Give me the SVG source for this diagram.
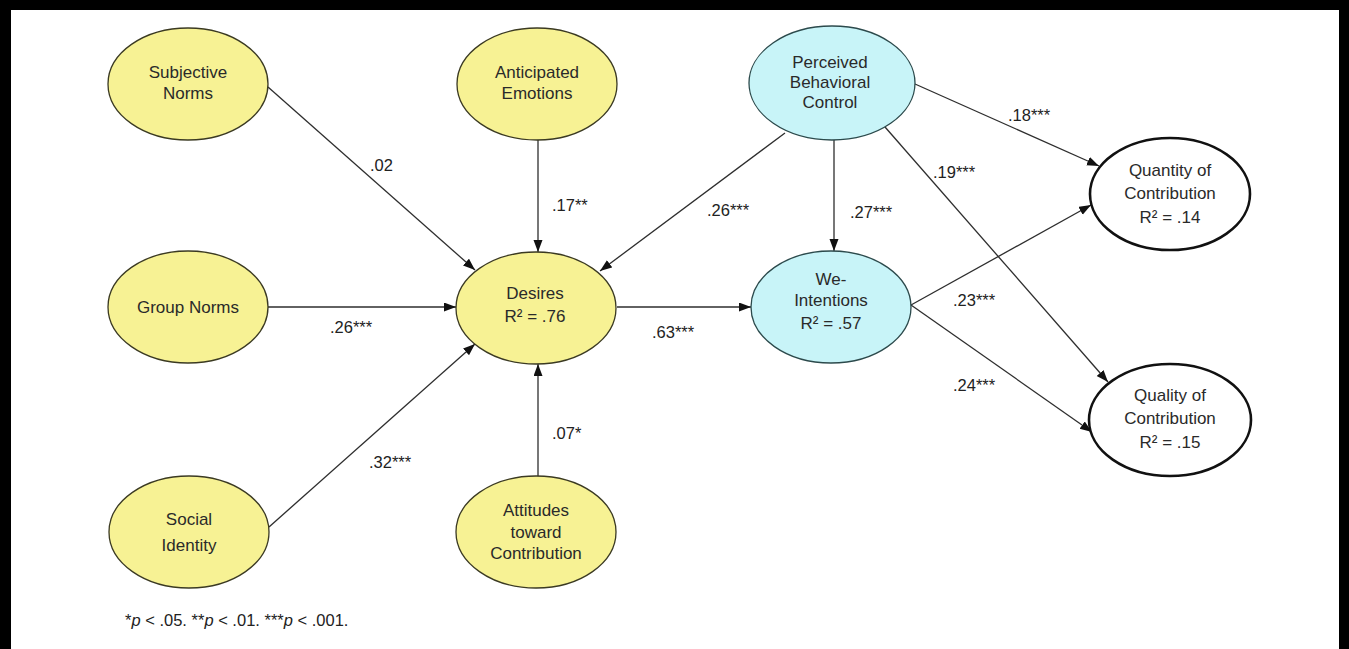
<svg xmlns="http://www.w3.org/2000/svg" width="1349" height="649" viewBox="0 0 1349 649">
<style>
  .bg { fill: #ffffff; }
  .frame { fill: #000000; }
  .yel { fill: #F7F294; stroke: #3b3a22; stroke-width: 1.3; }
  .cyan { fill: #C8F4F8; stroke: #2c4a4c; stroke-width: 1.3; }
  .out { fill: #ffffff; stroke: #111111; stroke-width: 2.6; }
  .nt { font-family: "Liberation Sans", Arial, sans-serif; font-size: 17px; fill: #2a2a2a; text-anchor: middle; }
  .lb { font-family: "Liberation Sans", Arial, sans-serif; font-size: 16.5px; fill: #222222; }
  .fn { font-family: "Liberation Sans", Arial, sans-serif; font-size: 16.5px; fill: #222222; }
  .ln { stroke: #2e2e2e; stroke-width: 1.3; fill: none; marker-end: url(#ah); }
</style>
<defs>
  <marker id="ah" markerUnits="userSpaceOnUse" markerWidth="13" markerHeight="10" refX="12" refY="4.5" orient="auto">
    <path d="M0,0 L12,4.5 L0,9 z" fill="#111111"/>
  </marker>
</defs>
<rect class="bg" x="0" y="0" width="1349" height="649"/>
<g id="frame">
  <rect class="frame" x="0" y="0" width="1349" height="10"/>
  <rect class="frame" x="0" y="0" width="11" height="649"/>
  <rect class="frame" x="1339" y="0" width="10" height="649"/>
</g>

<g id="connectors">
  <line class="ln" x1="268" y1="87" x2="475" y2="270"/>
  <line class="ln" x1="538" y1="140" x2="538" y2="252"/>
  <line class="ln" x1="785" y1="133" x2="600" y2="271"/>
  <line class="ln" x1="268" y1="307" x2="456" y2="307"/>
  <line class="ln" x1="269" y1="527" x2="475" y2="344"/>
  <line class="ln" x1="538" y1="476" x2="538" y2="364"/>
  <line class="ln" x1="617" y1="307" x2="751" y2="307"/>
  <line class="ln" x1="834" y1="140" x2="834" y2="251"/>
  <line class="ln" x1="915" y1="84" x2="1099" y2="166"/>
  <line class="ln" x1="885" y1="127" x2="1108" y2="382"/>
  <line class="ln" x1="911" y1="305" x2="1091" y2="205"/>
  <line class="ln" x1="911" y1="305" x2="1092" y2="432"/>
</g>

<g id="labels">
  <text class="lb" x="370" y="171">.02</text>
  <text class="lb" x="552" y="211">.17**</text>
  <text class="lb" x="707" y="216">.26***</text>
  <text class="lb" x="850" y="218">.27***</text>
  <text class="lb" x="330" y="333">.26***</text>
  <text class="lb" x="652" y="338">.63***</text>
  <text class="lb" x="552" y="439">.07*</text>
  <text class="lb" x="369" y="468">.32***</text>
  <text class="lb" x="1008" y="121">.18***</text>
  <text class="lb" x="933" y="178">.19***</text>
  <text class="lb" x="953" y="306">.23***</text>
  <text class="lb" x="953" y="391">.24***</text>
</g>

<g id="subjective-norms">
  <ellipse class="yel" cx="188" cy="84" rx="80" ry="56"/>
  <text class="nt" x="188" y="78">Subjective</text>
  <text class="nt" x="188" y="99">Norms</text>
</g>
<g id="anticipated-emotions">
  <ellipse class="yel" cx="537" cy="84" rx="80" ry="56"/>
  <text class="nt" x="537" y="78">Anticipated</text>
  <text class="nt" x="537" y="99">Emotions</text>
</g>
<g id="perceived-behavioral-control">
  <ellipse class="cyan" cx="832" cy="83" rx="83" ry="57"/>
  <text class="nt" x="830" y="68">Perceived</text>
  <text class="nt" x="830" y="88">Behavioral</text>
  <text class="nt" x="830" y="108">Control</text>
</g>
<g id="group-norms">
  <ellipse class="yel" cx="188" cy="307" rx="80" ry="56"/>
  <text class="nt" x="188" y="313">Group Norms</text>
</g>
<g id="desires">
  <ellipse class="yel" cx="536" cy="308" rx="80" ry="56"/>
  <text class="nt" x="535" y="299">Desires</text>
  <text class="nt" x="535" y="322">R² = .76</text>
</g>
<g id="we-intentions">
  <ellipse class="cyan" cx="831" cy="307" rx="80" ry="56"/>
  <text class="nt" x="831" y="285">We-</text>
  <text class="nt" x="831" y="306">Intentions</text>
  <text class="nt" x="831" y="329">R² = .57</text>
</g>
<g id="social-identity">
  <ellipse class="yel" cx="189" cy="532" rx="80" ry="56"/>
  <text class="nt" x="189" y="525">Social</text>
  <text class="nt" x="189" y="551">Identity</text>
</g>
<g id="attitudes-toward-contribution">
  <ellipse class="yel" cx="536" cy="532" rx="80" ry="56"/>
  <text class="nt" x="536" y="516">Attitudes</text>
  <text class="nt" x="536" y="538">toward</text>
  <text class="nt" x="536" y="559">Contribution</text>
</g>
<g id="quantity-of-contribution">
  <ellipse class="out" cx="1170" cy="194" rx="80" ry="56"/>
  <text class="nt" x="1170" y="176">Quantity of</text>
  <text class="nt" x="1170" y="199">Contribution</text>
  <text class="nt" x="1170" y="223">R² = .14</text>
</g>
<g id="quality-of-contribution">
  <ellipse class="out" cx="1170" cy="420" rx="81" ry="56"/>
  <text class="nt" x="1170" y="401">Quality of</text>
  <text class="nt" x="1170" y="424">Contribution</text>
  <text class="nt" x="1170" y="448">R² = .15</text>
</g>

<text class="fn" x="125" y="626">*<tspan font-style="italic">p</tspan> &lt; .05. **<tspan font-style="italic">p</tspan> &lt; .01. ***<tspan font-style="italic">p</tspan> &lt; .001.</text>
</svg>
